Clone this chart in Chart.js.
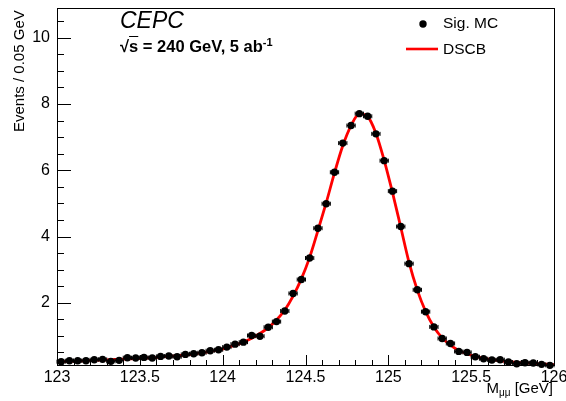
<!DOCTYPE html>
<html>
<head>
<meta charset="utf-8">
<script src="https://cdn.jsdelivr.net/npm/chart.js@4.4.1/dist/chart.umd.min.js"></script>
<style>
  html, body { margin: 0; padding: 0; background: #fff; }
  #wrap { position: relative; width: 566px; height: 401px; font-family: "Liberation Sans", Arial, sans-serif; color: #000; }
  #chart { position: absolute; left: 0; top: 0; }
  .lbl { position: absolute; white-space: nowrap; line-height: 1; }
</style>
</head>
<body>
<div id="wrap">
  <canvas id="chart" width="566" height="401"></canvas>
  <div class="lbl" style="left:120px; top:9px; font-size:23px; font-style:italic;">CEPC</div>
  <div class="lbl" style="left:120px; top:37px; font-size:16.5px; font-weight:bold;">&radic;<span style="text-decoration:overline;">s</span> = 240 GeV, 5 ab<sup style="font-size:11px; vertical-align:6px;">-1</sup></div>
  <div class="lbl" style="left:443px; top:15px; font-size:15.5px;">Sig. MC</div>
  <div class="lbl" style="left:443px; top:41px; font-size:15.5px;">DSCB</div>
  <div class="lbl" style="right:13px; top:380px; font-size:15px;">M<sub style="font-size:10px; vertical-align:-3px;">&mu;&mu;</sub> [GeV]</div>
  <div class="lbl" style="left:11px; top:10px; font-size:15px; transform-origin: 0 0; transform: translate(0px, 122px) rotate(-90deg);">Events / 0.05 GeV</div>
</div>
<script>
// ========== DATA ========== //
const binLo = 123;
const binWidth = 0.05;

// Sig. MC histogram contents (60 bins, 123 - 126 GeV)
const sigMC = [
  0.22, 0.25, 0.25, 0.25, 0.28, 0.29, 0.23, 0.26, 0.34, 0.33,
  0.35, 0.33, 0.38, 0.39, 0.37, 0.44, 0.46, 0.49, 0.55, 0.58,
  0.66, 0.75, 0.81, 1.01, 0.99, 1.26, 1.43, 1.75, 2.28, 2.70,
  3.35, 4.25, 4.99, 5.94, 6.82, 7.35, 7.71, 7.63, 7.10, 6.29,
  5.37, 4.30, 3.18, 2.39, 1.73, 1.27, 0.92, 0.77, 0.53, 0.50,
  0.37, 0.31, 0.27, 0.28, 0.21, 0.16, 0.19, 0.18, 0.14, 0.11
];

// DSCB fit curve, read at the bin centres, plus its two ends
const dscbStart = 0.21;
const dscb = [
  0.22, 0.23, 0.24, 0.25, 0.26, 0.27, 0.28, 0.29, 0.30, 0.31,
  0.33, 0.34, 0.36, 0.38, 0.40, 0.42, 0.45, 0.49, 0.53, 0.58,
  0.64, 0.72, 0.81, 0.93, 1.07, 1.25, 1.48, 1.78, 2.20, 2.72,
  3.37, 4.18, 5.02, 5.92, 6.74, 7.35, 7.70, 7.62, 7.12, 6.30,
  5.33, 4.28, 3.22, 2.38, 1.74, 1.27, 0.94, 0.72, 0.56, 0.46,
  0.38, 0.32, 0.28, 0.25, 0.22, 0.20, 0.18, 0.17, 0.15, 0.14
];
const dscbEnd = 0.13;

const xTicks = [123, 123.5, 124, 124.5, 125, 125.5, 126];
const yTicks = [2, 4, 6, 8, 10];
const xRange = [123, 126];
const yRange = [0.12, 10.9];

// ========== BUILD POINTS ========== //
const centers = sigMC.map((v, i) => binLo + (i + 0.5) * binWidth);
const mcPoints = sigMC.map((v, i) => ({ x: centers[i], y: v }));
const curvePoints = [{ x: xRange[0], y: dscbStart }]
  .concat(dscb.map((v, i) => ({ x: centers[i], y: v })))
  .concat([{ x: xRange[1], y: dscbEnd }]);

// ========== FRAME, INNER TICKS, ERROR BARS, LEGEND ========== //
const rootStyle = {
  id: 'rootStyle',
  afterDatasetsDraw(chart) {
    const ctx = chart.ctx;
    const a = chart.chartArea;
    const xs = chart.scales.x, ys = chart.scales.y;
    ctx.save();
    // horizontal (bin width) error bars
    ctx.strokeStyle = '#000';
    ctx.lineWidth = 1;
    mcPoints.forEach(p => {
      const x0 = xs.getPixelForValue(p.x - binWidth / 2);
      const x1 = xs.getPixelForValue(p.x + binWidth / 2);
      const y = ys.getPixelForValue(p.y);
      ctx.beginPath();
      ctx.moveTo(x0, y); ctx.lineTo(x1, y);
      ctx.moveTo(x0, y - 2); ctx.lineTo(x0, y + 2);
      ctx.moveTo(x1, y - 2); ctx.lineTo(x1, y + 2);
      ctx.stroke();
    });
    // frame
    ctx.strokeRect(Math.round(a.left) + 0.5, Math.round(a.top) + 0.5,
      Math.round(a.right - a.left), Math.round(a.bottom - a.top));
    // x ticks (inside)
    ctx.beginPath();
    for (let v = 0; v <= 30; v++) {
      const val = xRange[0] + v * 0.1;
      const px = Math.round(xs.getPixelForValue(val)) + 0.5;
      const len = (v % 5 === 0) ? 10 : 5;
      ctx.moveTo(px, a.bottom); ctx.lineTo(px, a.bottom - len);
    }
    // y ticks (inside)
    for (let v = 1; v <= 21; v++) {
      const val = v * 0.5;
      if (val < yRange[0] || val > yRange[1]) continue;
      const py = Math.round(ys.getPixelForValue(val)) + 0.5;
      const len = (v % 4 === 0) ? 14 : 7;
      ctx.moveTo(a.left, py); ctx.lineTo(a.left + len, py);
    }
    ctx.stroke();
    // legend symbols
    ctx.fillStyle = '#000';
    ctx.beginPath();
    ctx.arc(423, 24, 3.7, 0, Math.PI * 2);
    ctx.fill();
    ctx.strokeStyle = '#ff0000';
    ctx.lineWidth = 2.6;
    ctx.beginPath();
    ctx.moveTo(406, 49); ctx.lineTo(438, 49);
    ctx.stroke();
    ctx.restore();
  }
};

// ========== CHART ========== //
const fontSpec = { family: '"Liberation Sans", Arial, sans-serif', size: 16 };

function noPad(s) {
  s.paddingTop = 0; s.paddingBottom = 0;
  s.paddingLeft = 0; s.paddingRight = 0;
}

new Chart(document.getElementById('chart'), {
  type: 'scatter',
  data: {
    datasets: [
      {
        label: 'Sig. MC',
        data: mcPoints,
        pointRadius: 3.7,
        pointBackgroundColor: '#000',
        pointBorderColor: '#000',
        pointBorderWidth: 0,
        clip: false
      },
      {
        label: 'DSCB',
        data: curvePoints,
        showLine: true,
        borderColor: '#ff0000',
        borderWidth: 2.8,
        pointRadius: 0,
        cubicInterpolationMode: 'monotone'
      }
    ]
  },
  plugins: [rootStyle],
  options: {
    responsive: false,
    animation: false,
    layout: { padding: { top: 8, right: 12, left: 0, bottom: 0 } },
    plugins: { legend: { display: false }, tooltip: { enabled: false } },
    scales: {
      x: {
        type: 'linear',
        min: xRange[0], max: xRange[1],
        afterBuildTicks: s => { s.ticks = xTicks.map(v => ({ value: v })); },
        afterFit: s => { s.height = 36; noPad(s); },
        grid: { display: false, drawTicks: false },
        border: { display: false },
        ticks: { font: fontSpec, color: '#000', padding: 3, maxRotation: 0, autoSkip: false, callback: v => String(v) }
      },
      y: {
        type: 'linear',
        min: yRange[0], max: yRange[1],
        afterBuildTicks: s => { s.ticks = yTicks.map(v => ({ value: v })); },
        afterFit: s => { s.width = 57; noPad(s); },
        grid: { display: false, drawTicks: false },
        border: { display: false },
        ticks: { font: fontSpec, color: '#000', padding: 7, callback: v => String(v) }
      }
    }
  }
});
</script>
</body>
</html>
